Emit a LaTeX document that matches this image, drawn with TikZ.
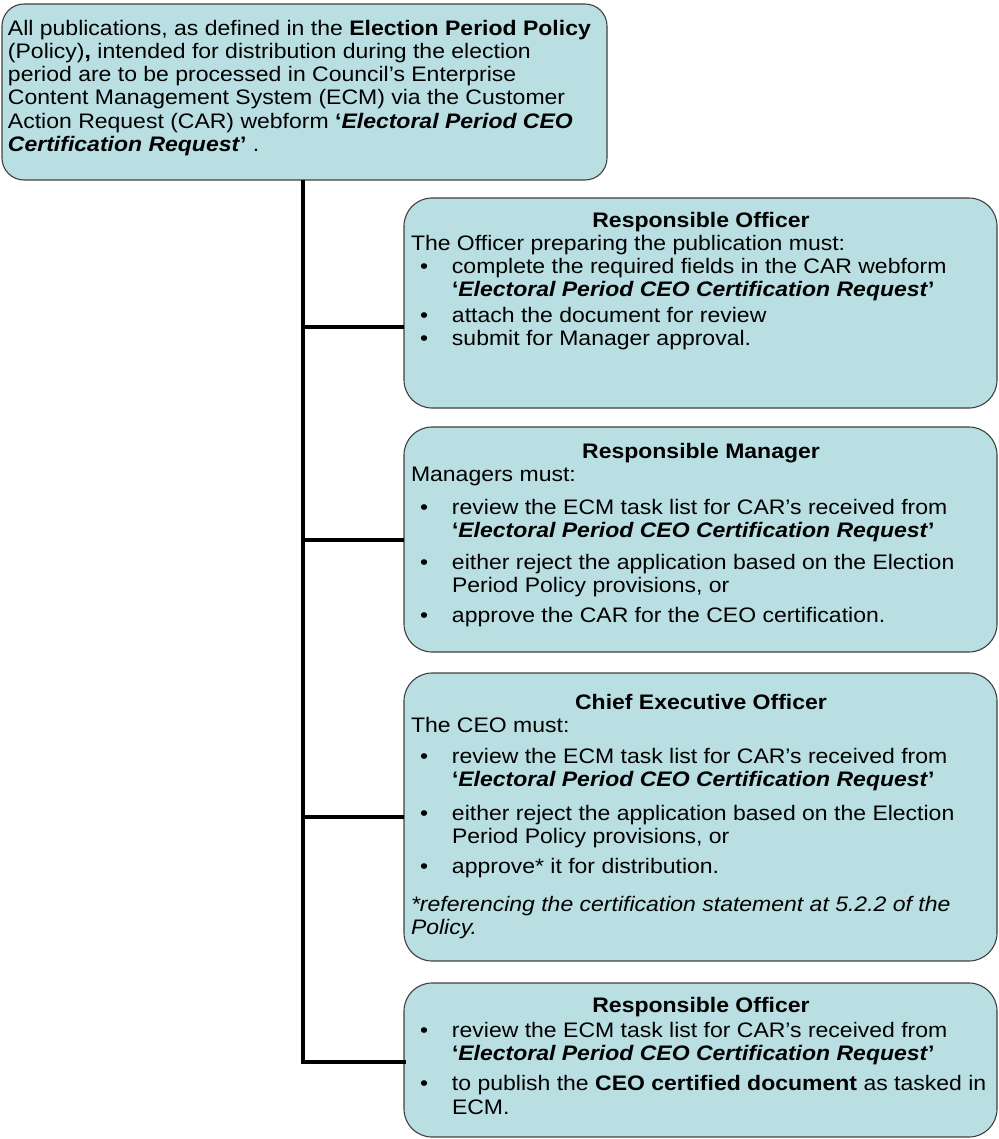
\documentclass[tikz,border=0pt]{standalone}
\usepackage{fontspec}
\setmainfont{Liberation Sans}[FakeStretch=1.095]
\definecolor{boxfill}{HTML}{B9DFE3}
\definecolor{boxline}{HTML}{404040}
\newcommand{\bl}{\makebox[41pt][l]{\hspace{9pt}\textbullet}}
\newcommand{\ind}{\hspace*{41pt}}
\newcommand{\ecpr}{\textbf{‘\textit{Electoral Period CEO Certification Request}’}}
\begin{document}
\begin{tikzpicture}[x=1pt,y=-1pt,
  box/.style={draw=boxline, fill=boxfill, line width=1.1pt, rounded corners=28pt,
    inner sep=0pt, outer sep=0pt, anchor=north west},
  txt/.style={anchor=north west, inner sep=0pt, outer sep=0pt, align=left,
    font=\fontsize{21}{23.3}\selectfont},
  trunk/.style={line width=4pt, black}]
\useasboundingbox (0,0) rectangle (998,1139);
% boxes
\node[box, rounded corners=22pt, minimum width=605pt, minimum height=176pt] (top) at (2,4) {};
\node[box, minimum width=593pt, minimum height=210pt] (b1) at (404,198) {};
\node[box, minimum width=593pt, minimum height=225pt] (b2) at (404,427) {};
\node[box, minimum width=593pt, minimum height=288pt] (b3) at (404,673) {};
\node[box, minimum width=593pt, minimum height=154pt] (b4) at (404,983) {};
% texts
\node[txt] (t0) at (8,18.7) {\strut All publications, as defined in the \textbf{Election Period Policy}\\
(Policy)\textbf{,} intended for distribution during the election\\
period are to be processed in Council’s Enterprise\\
Content Management System (ECM) via the Customer\\
Action Request (CAR) webform \textbf{‘\textit{Electoral Period CEO}}\\
\textbf{\textit{Certification Request}’} .};
\node[txt] (t1) at (411,210.7) {\strut\makebox[580pt][c]{\textbf{Responsible Officer}}\\
The Officer preparing the publication must:\\
\bl complete the required fields in the CAR webform\\
\ind\ecpr\\[2pt]
\bl attach the document for review\\
\bl submit for Manager approval.};
\node[txt] (t2) at (411,441.7) {\strut\makebox[580pt][c]{\textbf{Responsible Manager}}\\
Managers must:\\[10pt]
\bl review the ECM task list for CAR’s received from\\
\ind\ecpr\\[8pt]
\bl either reject the application based on the Election\\
\ind Period Policy provisions, or\\[7pt]
\bl approve the CAR for the CEO certification.};
\node[txt] (t3) at (411,692.7) {\strut\makebox[580pt][c]{\textbf{Chief Executive Officer}}\\
The CEO must:\\[8pt]
\bl review the ECM task list for CAR’s received from\\
\ind\ecpr\\[10pt]
\bl either reject the application based on the Election\\
\ind Period Policy provisions, or\\[7pt]
\bl approve* it for distribution.\\[14pt]
\textit{*referencing the certification statement at 5.2.2 of the}\\
\textit{Policy.}};
\node[txt] (t4) at (411,995.7) {\strut\makebox[580pt][c]{\textbf{Responsible Officer}}\\[2pt]
\bl review the ECM task list for CAR’s received from\\
\ind\ecpr\\[7pt]
\bl to publish the \textbf{CEO certified document} as tasked in\\
\ind ECM.};
% connectors
\coordinate (j1) at (303,327);
\coordinate (j2) at (303,540);
\coordinate (j3) at (303,817);
\coordinate (j4) at (303,1062);
\draw[trunk] (top.south -| j1) -- (j4);
\draw[trunk] (j1) -- (j1 -| b1.west);
\draw[trunk] (j2) -- (j2 -| b2.west);
\draw[trunk] (j3) -- (j3 -| b3.west);
\draw[trunk, line cap=rect] (j4) -- (j4 -| b4.west);
\end{tikzpicture}
\end{document}
